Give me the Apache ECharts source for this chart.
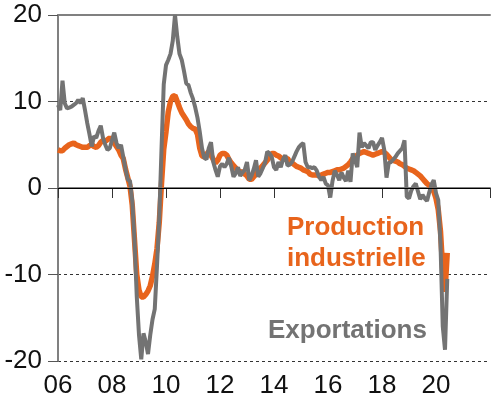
<!DOCTYPE html>
<html>
<head>
<meta charset="utf-8">
<script src="https://cdn.jsdelivr.net/npm/echarts@6/dist/echarts.min.js"></script>
<style>
  html, body { margin: 0; padding: 0; background: #fff; }
  #chart { width: 493px; height: 406px; }
</style>
</head>
<body>
<div id="chart"></div>
<script>
// monthly data, January 2006 -> June 2020 (y/y %)
var startYear = 2006;
var yTicks = [-20, -10, 0, 10, 20];
var xTicks = ["06", "08", "10", "12", "14", "16", "18", "20"];

var production = [
  // 2006
  4.4, 4.3, 4.3, 4.6, 4.8, 5.0, 5.1, 5.2, 5.0, 4.9, 4.8, 4.7,
  // 2007
  4.7, 4.7, 4.9, 5.0, 4.8, 4.7, 4.9, 5.3, 5.5, 5.4, 5.6, 5.8,
  // 2008
  5.6, 5.2, 4.8, 4.4, 3.8, 3.4, 2.2, 1.2, 0.2, -2.0, -6.0, -10.0,
  // 2009
  -11.8, -12.6, -12.6, -12.3, -11.9, -11.3, -10.2, -8.8, -7.0, -4.0, 0.5, 4.5,
  // 2010
  6.5, 8.8, 10.0, 10.6, 10.7, 10.0, 9.3, 8.7, 8.3, 7.9, 7.4, 7.1,
  // 2011
  6.9, 6.8, 6.2, 4.6, 3.7, 3.6, 3.9, 4.2, 3.8, 3.3, 2.9, 3.2,
  // 2012
  3.8, 4.0, 4.0, 3.8, 3.3, 2.9, 2.6, 2.3, 2.0, 1.9, 1.8, 1.6,
  // 2013
  1.4, 1.0, 1.0, 1.3, 1.6, 2.0, 2.3, 2.6, 2.9, 3.2, 3.6, 4.0,
  // 2014
  4.0, 3.8, 3.7, 3.5, 3.3, 3.4, 3.4, 3.0, 2.9, 2.7, 2.5, 2.4,
  // 2015
  2.3, 2.1, 2.0, 1.9, 1.6, 1.5, 1.5, 1.5, 1.4, 1.5, 1.6, 1.7,
  // 2016
  1.8, 1.8, 1.9, 2.0, 2.1, 2.1, 2.2, 2.3, 2.5, 2.7, 3.0, 3.4,
  // 2017
  3.6, 3.8, 4.0, 4.1, 4.2, 4.1, 4.0, 3.9, 3.8, 3.9, 4.0, 4.1,
  // 2018
  4.2, 4.1, 3.9, 3.6, 3.3, 3.2, 3.1, 3.0, 2.8, 2.7, 2.5, 2.3,
  // 2019
  2.2, 2.1, 2.0, 1.8, 1.6, 1.4, 1.1, 0.8, 0.5, 0.3, 0.0, -0.4,
  // 2020
  -1.2, -2.5, -5.0, -9.5, -12.0, -7.5
];

var exportations = [
  // 2006
  9.6, 9.0, 12.4, 9.8, 9.2, 9.3, 9.4, 9.6, 9.8, 10.2, 9.8, 10.4,
  // 2007
  9.0, 7.5, 6.2, 4.8, 6.0, 5.8, 6.6, 7.2, 5.8, 5.0, 4.4, 4.6,
  // 2008
  5.5, 6.4, 5.2, 4.6, 5.0, 3.6, 2.2, 1.0, 0.8, -1.5, -6.0, -12.5,
  // 2009
  -17.0, -19.8, -16.8, -17.8, -19.2, -17.0, -15.2, -14.0, -9.0, -3.5, 4.5, 12.0,
  // 2010
  14.2, 14.8, 15.5, 17.0, 20.0, 17.5, 15.5, 14.8, 13.5, 12.1, 11.9, 11.0,
  // 2011
  10.3, 9.3, 8.1, 6.5, 4.6, 3.5, 3.3, 4.6, 5.3, 3.0, 2.1, 1.3,
  // 2012
  2.5, 2.8, 2.4, 2.8, 3.5, 2.5, 1.3, 1.7, 2.4, 1.4, 1.8, 2.1,
  // 2013
  3.0, 0.9, 1.4, 2.2, 3.2, 1.3, 1.7, 2.3, 2.9, 4.2, 4.0, 3.6,
  // 2014
  2.4, 2.1, 3.0, 2.4, 3.3, 3.8, 2.6, 2.7, 3.0, 3.6, 4.2, 4.7,
  // 2015
  5.0, 5.2, 3.0, 2.4, 2.4, 2.3, 2.4, 2.0, 1.3, 0.9, 1.3, 0.5,
  // 2016
  0.3, -1.1, 0.8, 2.0, 1.5, 0.9, 1.8, 1.2, 0.8, 2.0, 0.7, 4.0,
  // 2017
  3.2, 2.4, 6.4, 4.7, 5.2, 4.9, 4.6, 5.3, 5.3, 4.4, 4.9, 5.3,
  // 2018
  5.8, 4.4, 1.2, 2.9, 3.0, 3.3, 3.6, 4.0, 4.3, 4.6, 5.5, -1.0,
  // 2019
  -1.2, -0.3, 0.2, 0.5, -0.4, -1.3, -0.8, -1.2, -1.5, -0.5, 0.4, 0.9,
  // 2020
  -0.6, -1.4, -6.5, -16.0, -18.7, -10.5
];

function toPairs(arr) {
  var out = [];
  for (var i = 0; i < arr.length; i++) {
    out.push([startYear + i / 12, arr[i]]);
  }
  return out;
}

var orange = "#e8641c";
var grey = "#737373";
var axisGrey = "#808080";
var tickFont = "'Liberation Sans Narrow', 'Liberation Sans', Arial, sans-serif";

var myChart = echarts.init(document.getElementById("chart"));
var option = {
  animation: false,
  grid: { left: 58, right: 0, top: 15, bottom: 45 },
  xAxis: [
    {
      type: "value",
      min: 2006,
      max: 2022,
      interval: 2,
      axisLine: { lineStyle: { color: axisGrey, width: 2 } },
      axisTick: { length: 10, lineStyle: { color: "#333", width: 1 } },
      axisLabel: {
        margin: 12,
        fontFamily: tickFont,
        fontSize: 26,
        color: "#111",
        formatter: function (v) {
          var idx = (v - 2006) / 2;
          return xTicks[idx] || "";
        }
      },
      splitLine: { show: false }
    },
    {
      // top border at 20
      type: "value",
      position: "top",
      min: 2006,
      max: 2022,
      axisLine: { lineStyle: { color: axisGrey, width: 2 } },
      axisTick: { show: false },
      axisLabel: { show: false },
      splitLine: { show: false }
    }
  ],
  yAxis: {
    type: "value",
    min: yTicks[0],
    max: yTicks[yTicks.length - 1],
    interval: 10,
    axisLine: { show: true, lineStyle: { color: axisGrey, width: 2 } },
    axisTick: { show: true, length: 10, lineStyle: { color: "#555", width: 1 } },
    axisLabel: {
      margin: 16,
      fontFamily: tickFont,
      fontSize: 26,
      color: "#111"
    },
    splitLine: {
      show: true,
      lineStyle: { color: "#333", type: [3, 3], width: 1 }
    }
  },
  series: [
    {
      name: "Production industrielle",
      type: "line",
      data: toPairs(production),
      showSymbol: false,
      lineStyle: { color: orange, width: 5.5 },
      itemStyle: { color: orange },
      markLine: {
        silent: true,
        symbol: "none",
        label: { show: false },
        lineStyle: { color: "#000", type: "solid", width: 1 },
        data: [{ yAxis: 0 }]
      },
      z: 2
    },
    {
      name: "Exportations",
      type: "line",
      data: toPairs(exportations),
      showSymbol: false,
      lineStyle: { color: grey, width: 4 },
      itemStyle: { color: grey },
      z: 3
    }
  ],
  graphic: [
    {
      type: "text",
      left: 287,
      top: 212,
      style: {
        text: "Production\nindustrielle",
        fill: orange,
        font: "bold 26px 'Liberation Sans', Arial, sans-serif",
        lineHeight: 31,
        align: "left"
      }
    },
    {
      type: "text",
      left: 268,
      top: 318,
      style: {
        text: "Exportations",
        fill: grey,
        font: "bold 26px 'Liberation Sans', Arial, sans-serif"
      }
    }
  ]
};
myChart.setOption(option);
</script>
</body>
</html>
